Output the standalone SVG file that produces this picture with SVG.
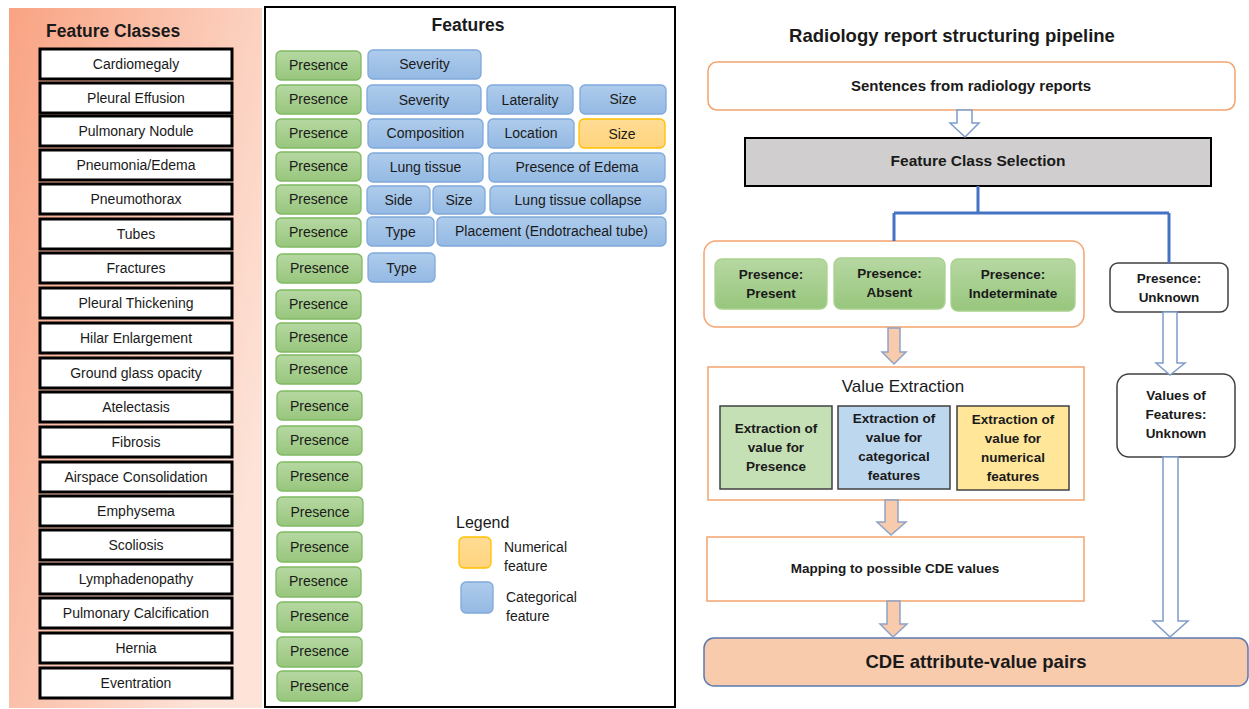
<svg xmlns="http://www.w3.org/2000/svg" width="1249" height="709" viewBox="0 0 1249 709">
<defs>
<linearGradient id="gLeft" x1="0" y1="0" x2="1" y2="0.6">
<stop offset="0" stop-color="#F9A383"/>
<stop offset="1" stop-color="#FDE3D8"/>
</linearGradient>
<linearGradient id="gGreen" x1="0" y1="0" x2="0" y2="1">
<stop offset="0" stop-color="#B6D8A2"/>
<stop offset="1" stop-color="#98C67D"/>
</linearGradient>
<linearGradient id="gBlue" x1="0" y1="0" x2="0" y2="1">
<stop offset="0" stop-color="#AECCEC"/>
<stop offset="1" stop-color="#94B9E3"/>
</linearGradient>
<linearGradient id="gYellow" x1="0" y1="0" x2="0" y2="1">
<stop offset="0" stop-color="#FFDC94"/>
<stop offset="1" stop-color="#FFD47E"/>
</linearGradient>
</defs>
<style>
text{font-family:"Liberation Sans",Arial,sans-serif;fill:#1a1a1a}
.fc{fill:#fff;stroke:#000;stroke-width:3}
.fct{font-size:14px;text-anchor:middle}
.pr{fill:url(#gGreen);stroke:#7FBA62;stroke-width:1.3}
.bl{fill:url(#gBlue);stroke:#7FA9DA;stroke-width:1.3}
.ye{fill:url(#gYellow);stroke:#FFC000;stroke-width:1.3}
.ft{font-size:14px;text-anchor:middle}
.b{font-weight:bold}
.c{text-anchor:middle}
.or{fill:#fff;stroke:#F4A46F;stroke-width:1.5}
.hol{fill:#fff;stroke:#7F9CC9;stroke-width:1.5}
.pea{fill:#F8CBAD;stroke:#8FA3C8;stroke-width:1.5}
.sub{stroke:#404040;stroke-width:1.5}
</style>

<g id="feature-classes">
<rect x="9" y="8" width="253" height="700" fill="url(#gLeft)"/>
<text x="46" y="37" font-size="17.5" font-weight="bold">Feature Classes</text>
<g id="fc-cardiomegaly"><rect class="fc" x="40" y="49" width="192" height="30"/><text class="fct" x="136" y="69">Cardiomegaly</text></g>
<g id="fc-pleural-effusion"><rect class="fc" x="40" y="83" width="192" height="30"/><text class="fct" x="136" y="103">Pleural Effusion</text></g>
<g id="fc-pulmonary-nodule"><rect class="fc" x="40" y="116" width="192" height="30"/><text class="fct" x="136" y="136">Pulmonary Nodule</text></g>
<g id="fc-pneumonia"><rect class="fc" x="40" y="150" width="192" height="30"/><text class="fct" x="136" y="170">Pneumonia/Edema</text></g>
<g id="fc-pneumothorax"><rect class="fc" x="40" y="184" width="192" height="30"/><text class="fct" x="136" y="204">Pneumothorax</text></g>
<g id="fc-tubes"><rect class="fc" x="40" y="219" width="192" height="30"/><text class="fct" x="136" y="239">Tubes</text></g>
<g id="fc-fractures"><rect class="fc" x="40" y="253" width="192" height="30"/><text class="fct" x="136" y="273">Fractures</text></g>
<g id="fc-pleural-thickening"><rect class="fc" x="40" y="288" width="192" height="30"/><text class="fct" x="136" y="308">Pleural Thickening</text></g>
<g id="fc-hilar"><rect class="fc" x="40" y="323" width="192" height="30"/><text class="fct" x="136" y="343">Hilar Enlargement</text></g>
<g id="fc-ggo"><rect class="fc" x="40" y="358" width="192" height="30"/><text class="fct" x="136" y="378">Ground glass opacity</text></g>
<g id="fc-atelectasis"><rect class="fc" x="40" y="392" width="192" height="30"/><text class="fct" x="136" y="412">Atelectasis</text></g>
<g id="fc-fibrosis"><rect class="fc" x="40" y="427" width="192" height="30"/><text class="fct" x="136" y="447">Fibrosis</text></g>
<g id="fc-airspace"><rect class="fc" x="40" y="462" width="192" height="30"/><text class="fct" x="136" y="482">Airspace Consolidation</text></g>
<g id="fc-emphysema"><rect class="fc" x="40" y="496" width="192" height="30"/><text class="fct" x="136" y="516">Emphysema</text></g>
<g id="fc-scoliosis"><rect class="fc" x="40" y="530" width="192" height="30"/><text class="fct" x="136" y="550">Scoliosis</text></g>
<g id="fc-lymph"><rect class="fc" x="40" y="564" width="192" height="30"/><text class="fct" x="136" y="584">Lymphadenopathy</text></g>
<g id="fc-calcification"><rect class="fc" x="40" y="598" width="192" height="30"/><text class="fct" x="136" y="618">Pulmonary Calcification</text></g>
<g id="fc-hernia"><rect class="fc" x="40" y="633" width="192" height="30"/><text class="fct" x="136" y="653">Hernia</text></g>
<g id="fc-eventration"><rect class="fc" x="40" y="668" width="192" height="30"/><text class="fct" x="136" y="688">Eventration</text></g>
</g>

<g id="features">
<rect x="265" y="7" width="410" height="700" fill="#fff" stroke="#000" stroke-width="2"/>
<text x="468" y="31" font-size="17.5" font-weight="bold" text-anchor="middle">Features</text>
<g id="row1"><rect class="pr" x="276" y="51" width="85" height="29" rx="5"/><text class="ft" x="318.5" y="70">Presence</text>
<rect class="bl" x="368" y="50" width="113" height="29" rx="5"/><text class="ft" x="424.5" y="69">Severity</text></g>
<g id="row2"><rect class="pr" x="276" y="85" width="85" height="29" rx="5"/><text class="ft" x="318.5" y="104">Presence</text>
<rect class="bl" x="367" y="85" width="114" height="29" rx="5"/><text class="ft" x="424" y="105">Severity</text>
<rect class="bl" x="487" y="85" width="86" height="29" rx="5"/><text class="ft" x="530" y="105">Laterality</text>
<rect class="bl" x="580" y="85" width="86" height="29" rx="5"/><text class="ft" x="623" y="104">Size</text></g>
<g id="row3"><rect class="pr" x="276" y="119" width="85" height="29" rx="5"/><text class="ft" x="318.5" y="138">Presence</text>
<rect class="bl" x="368" y="119" width="115" height="29" rx="5"/><text class="ft" x="425.5" y="138">Composition</text>
<rect class="bl" x="488" y="119" width="86" height="29" rx="5"/><text class="ft" x="531" y="138">Location</text>
<rect class="ye" x="579" y="119" width="86" height="29" rx="5"/><text class="ft" x="622" y="139">Size</text></g>
<g id="row4"><rect class="pr" x="276" y="152" width="85" height="29" rx="5"/><text class="ft" x="318.5" y="171">Presence</text>
<rect class="bl" x="368" y="153" width="115" height="29" rx="5"/><text class="ft" x="425.5" y="172">Lung tissue</text>
<rect class="bl" x="489" y="153" width="176" height="29" rx="5"/><text class="ft" x="577" y="172">Presence of Edema</text></g>
<g id="row5"><rect class="pr" x="276" y="185" width="85" height="29" rx="5"/><text class="ft" x="318.5" y="204">Presence</text>
<rect class="bl" x="367" y="186" width="63" height="28" rx="5"/><text class="ft" x="398.5" y="205">Side</text>
<rect class="bl" x="433" y="186" width="52" height="28" rx="5"/><text class="ft" x="459" y="205">Size</text>
<rect class="bl" x="490" y="186" width="176" height="28" rx="5"/><text class="ft" x="578" y="205">Lung tissue collapse</text></g>
<g id="row6"><rect class="pr" x="276" y="218" width="85" height="29" rx="5"/><text class="ft" x="318.5" y="237">Presence</text>
<rect class="bl" x="367" y="217" width="67" height="29" rx="5"/><text class="ft" x="400.5" y="237">Type</text>
<rect class="bl" x="437" y="217" width="229" height="29" rx="5"/><text class="ft" x="551.5" y="236">Placement (Endotracheal tube)</text></g>
<g id="row7"><rect class="pr" x="277" y="254" width="85" height="29" rx="5"/><text class="ft" x="319.5" y="273">Presence</text>
<rect class="bl" x="368" y="253" width="67" height="29" rx="5"/><text class="ft" x="401.5" y="273">Type</text></g>
<g id="row8"><rect class="pr" x="276" y="290" width="85" height="29" rx="5"/><text class="ft" x="318.5" y="309">Presence</text></g>
<g id="row9"><rect class="pr" x="276" y="323" width="85" height="29" rx="5"/><text class="ft" x="318.5" y="342">Presence</text></g>
<g id="row10"><rect class="pr" x="276" y="355" width="85" height="29" rx="5"/><text class="ft" x="318.5" y="374">Presence</text></g>
<g id="row11"><rect class="pr" x="277" y="391" width="85" height="29" rx="5"/><text class="ft" x="319.5" y="411">Presence</text></g>
<g id="row12"><rect class="pr" x="277" y="426" width="85" height="29" rx="5"/><text class="ft" x="319.5" y="445">Presence</text></g>
<g id="row13"><rect class="pr" x="277" y="462" width="85" height="29" rx="5"/><text class="ft" x="319.5" y="481">Presence</text></g>
<g id="row14"><rect class="pr" x="277" y="497" width="86" height="29" rx="5"/><text class="ft" x="320" y="517">Presence</text></g>
<g id="row15"><rect class="pr" x="277" y="532" width="85" height="30" rx="5"/><text class="ft" x="319.5" y="552">Presence</text></g>
<g id="row16"><rect class="pr" x="276" y="567" width="85" height="30" rx="5"/><text class="ft" x="318.5" y="586">Presence</text></g>
<g id="row17"><rect class="pr" x="277" y="602" width="85" height="30" rx="5"/><text class="ft" x="319.5" y="621">Presence</text></g>
<g id="row18"><rect class="pr" x="277" y="637" width="85" height="30" rx="5"/><text class="ft" x="319.5" y="656">Presence</text></g>
<g id="row19"><rect class="pr" x="277" y="671" width="85" height="30" rx="5"/><text class="ft" x="319.5" y="691">Presence</text></g>
<g id="legend">
<text x="456" y="528" font-size="16">Legend</text>
<rect class="ye" x="459" y="537" width="32" height="31" rx="5"/>
<text x="504" y="552" font-size="14">Numerical</text>
<text x="504" y="571" font-size="14">feature</text>
<rect class="bl" x="461" y="582" width="32" height="31" rx="5"/>
<text x="506" y="602" font-size="14">Categorical</text>
<text x="506" y="621" font-size="14">feature</text>
</g>
</g>

<g id="pipeline">
<text x="952" y="42" font-size="18.5" font-weight="bold" text-anchor="middle">Radiology report structuring pipeline</text>
<g id="sentences"><rect class="or" x="708" y="62" width="527" height="48" rx="9"/><text class="c b" x="971" y="91" font-size="15">Sentences from radiology reports</text></g>
<g id="fcs"><rect x="745" y="138" width="466" height="48" fill="#D0CECE" stroke="#000" stroke-width="2"/><text class="c b" x="978" y="166" font-size="15.5">Feature Class Selection</text></g>
<g id="presence-group">
<rect class="or" x="704" y="241" width="380" height="86" rx="12"/>
<g id="present"><rect x="715" y="259" width="112" height="50" rx="7" fill="url(#gGreen)" stroke="#A9D18E" stroke-width="1.3"/><text class="c b" x="771" y="279" font-size="13.5">Presence:</text><text class="c b" x="771" y="298" font-size="13.5">Present</text></g>
<g id="absent"><rect x="834" y="258" width="111" height="51" rx="7" fill="url(#gGreen)" stroke="#A9D18E" stroke-width="1.3"/><text class="c b" x="889.5" y="278" font-size="13.5">Presence:</text><text class="c b" x="889.5" y="297" font-size="13.5">Absent</text></g>
<g id="indeterminate"><rect x="951" y="259" width="124" height="52" rx="7" fill="url(#gGreen)" stroke="#A9D18E" stroke-width="1.3"/><text class="c b" x="1013" y="279" font-size="13.5">Presence:</text><text class="c b" x="1013" y="298" font-size="13.5">Indeterminate</text></g>
</g>
<g id="unknown"><rect x="1110" y="263" width="118" height="49" rx="8" fill="#fff" stroke="#404040" stroke-width="1.5"/><text class="c b" x="1169" y="283" font-size="13.5">Presence:</text><text class="c b" x="1169" y="302" font-size="13.5">Unknown</text></g>
<g id="values-unknown"><rect x="1117" y="374" width="118" height="83" rx="12" fill="#fff" stroke="#404040" stroke-width="1.5"/><text class="c b" x="1176" y="400" font-size="13.5">Values of</text><text class="c b" x="1176" y="419" font-size="13.5">Features:</text><text class="c b" x="1176" y="438" font-size="13.5">Unknown</text></g>
<g id="value-extraction">
<rect class="or" x="708" y="367" width="376" height="133"/>
<text class="c" x="903" y="392" font-size="17">Value Extraction</text>
<g id="ve-presence"><rect class="sub" x="720" y="406" width="112" height="83" fill="#C5E0B4"/><text class="c b" x="776" y="433" font-size="13.5">Extraction of</text><text class="c b" x="776" y="452" font-size="13.5">value for</text><text class="c b" x="776" y="471" font-size="13.5">Presence</text></g>
<g id="ve-categorical"><rect class="sub" x="838" y="406" width="112" height="83" fill="#BDD7EE"/><text class="c b" x="894" y="423" font-size="13.5">Extraction of</text><text class="c b" x="894" y="442" font-size="13.5">value for</text><text class="c b" x="894" y="461" font-size="13.5">categorical</text><text class="c b" x="894" y="480" font-size="13.5">features</text></g>
<g id="ve-numerical"><rect class="sub" x="957" y="406" width="112" height="84" fill="#FFE699"/><text class="c b" x="1013" y="424" font-size="13.5">Extraction of</text><text class="c b" x="1013" y="443" font-size="13.5">value for</text><text class="c b" x="1013" y="462" font-size="13.5">numerical</text><text class="c b" x="1013" y="481" font-size="13.5">features</text></g>
</g>
<g id="mapping"><rect class="or" x="707" y="537" width="377" height="64"/><text class="c b" x="895" y="573" font-size="13.5">Mapping to possible CDE values</text></g>
<g id="cde"><rect x="704" y="638" width="544" height="48" rx="10" fill="#F8CBAD" stroke="#5B7BB0" stroke-width="1.5"/><text class="c b" x="976" y="668" font-size="18.5">CDE attribute-value pairs</text></g>
</g>

<g id="connectors">
<path d="M978,186 V213 M894,213 H1169 M894,213 V241 M1169,213 V263" fill="none" stroke="#4472C4" stroke-width="3"/>
<path class="hol" d="M957,110 H972 V123 H979 L965,137 L950,123 H957 Z"/>
<path class="pea" d="M888,328 H900 V352 H906 L894,364 L882,352 H888 Z"/>
<path class="pea" d="M885,500 H898 V522 H906 L891,535 L877,522 H885 Z"/>
<path class="pea" d="M887,601 H900 V624 H907 L893,637 L880,624 H887 Z"/>
<path class="hol" d="M1163,312 H1177 V363 H1185 L1170,375 L1156,363 H1163 Z"/>
<path class="hol" d="M1163,457 H1178 V621 H1188 L1170,637 L1153,621 H1163 Z"/>
</g>
</svg>
